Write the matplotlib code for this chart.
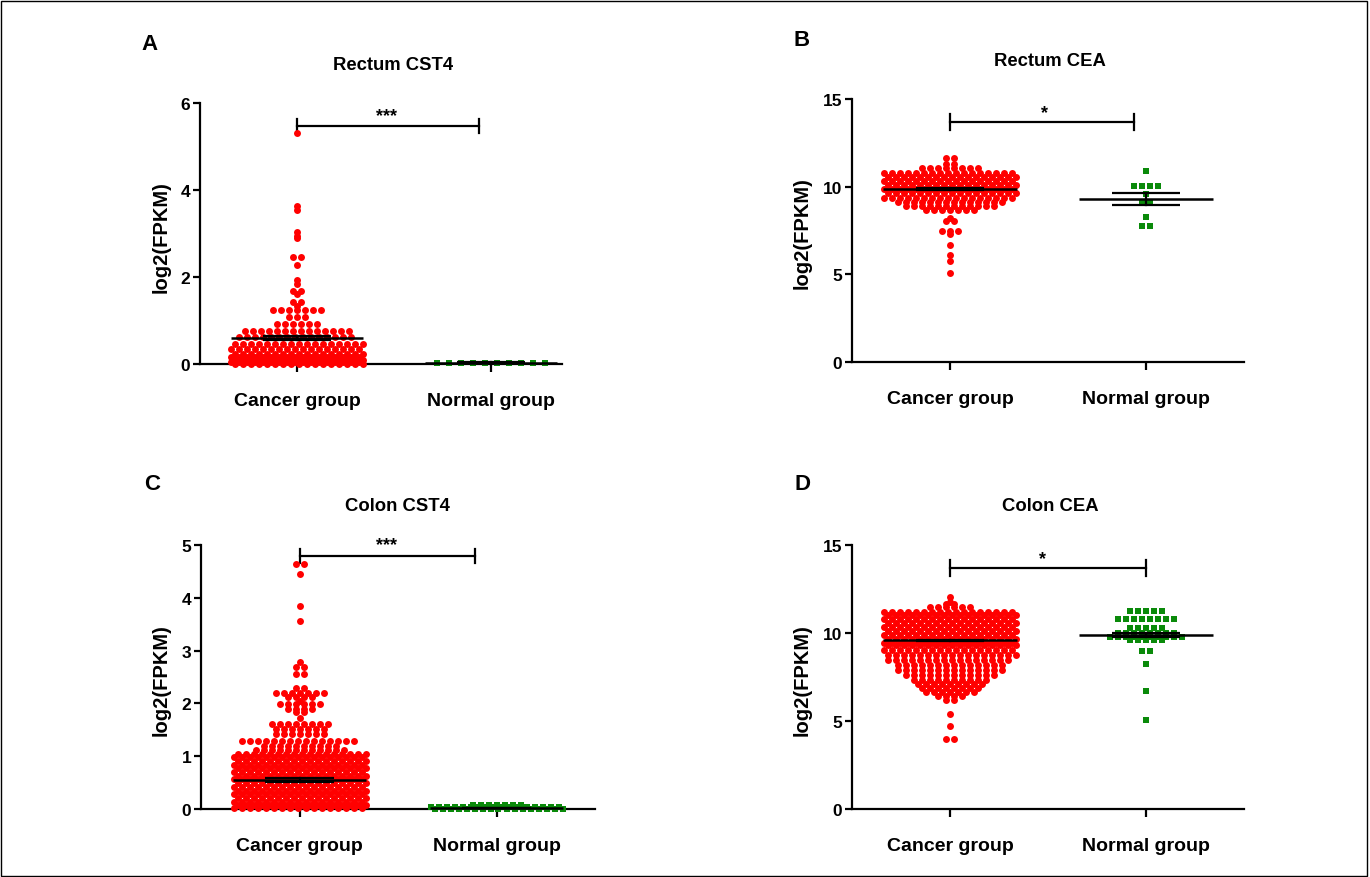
import matplotlib
matplotlib.use('Agg')
import matplotlib.pyplot as plt
import numpy as np
from matplotlib.patches import Rectangle

plt.rcParams['font.family'] = ['Liberation Sans', 'DejaVu Sans']
plt.rcParams['font.weight'] = 'bold'

W, H = 1370, 878
categories = ['Cancer group', 'Normal group']
titles = ['Rectum CST4', 'Rectum CEA', 'Colon CST4', 'Colon CEA']
letters = ['A', 'B', 'C', 'D']
significance = ['***', '*', '***', '*']

# ---- Panel A: Rectum CST4 (swarm rows: value, number of points) ----
a_cancer_vals = [3.63, 3.55, 3.04, 2.95, 2.89, 2.47, 2.28, 1.93, 1.85, 1.67, 1.61, 1.42, 1.33,
                 1.24, 1.07, 0.92, 0.75, 0.62, 0.46, 0.34, 0.24, 0.16, 0.1, 0.05, 0.01]
a_cancer_counts = [1, 1, 1, 1, 1, 2, 1, 1, 1, 2, 1, 2, 1,
                   7, 3, 6, 14, 15, 17, 17, 17, 17, 17, 17, 17]
a_cancer_outlier = [5.32]
a_normal_vals = [0.02]
a_normal_counts = [10]
a_means = [0.60, 0.03]
a_sems = [0.055, 0.01]

# ---- Panel B: Rectum CEA ----
b_cancer_vals = [11.62, 11.28, 11.05, 10.8, 10.55, 10.3, 10.08, 9.85, 9.62, 9.38, 9.15, 8.92,
                 8.65, 8.22, 8.06, 7.45, 7.3, 6.67, 6.1, 5.75, 5.05]
b_cancer_counts = [2, 2, 8, 17, 17, 17, 17, 17, 17, 17, 14, 12, 7, 1, 2, 3, 1, 1, 1, 1, 1]
b_normal_vals = [10.88, 10.05, 9.58, 9.15, 8.29, 7.73]
b_normal_counts = [1, 4, 1, 2, 1, 2]
b_means = [9.85, 9.32]
b_sems = [0.06, 0.34]

# ---- Panel C: Colon CST4 ----
c_cancer_vals = [4.64, 4.46, 3.85, 3.57, 2.79, 2.68, 2.56, 2.3, 2.2, 2.12, 2.04, 1.99, 1.89,
                 1.83, 1.73, 1.61, 1.52, 1.42, 1.29, 1.2, 1.12, 1.05, 0.98, 0.91, 0.84, 0.77,
                 0.7, 0.63, 0.56, 0.49, 0.42, 0.35, 0.28, 0.21, 0.14, 0.07, 0.01]
c_cancer_counts = [2, 1, 1, 1, 1, 2, 2, 2, 7, 4, 1, 6, 4,
                   2, 1, 8, 7, 7, 15, 10, 12, 17, 17, 17, 17, 17,
                   17, 17, 17, 17, 17, 17, 17, 17, 17, 17, 17]
c_normal_vals = [0.07, 0.03, 0.0]
c_normal_counts = [7, 17, 17]
c_means = [0.55, 0.02]
c_sems = [0.03, 0.004]

# ---- Panel D: Colon CEA ----
d_cancer_vals = [12.06, 11.75, 11.62, 11.46, 11.22, 11.0, 10.78, 10.56, 10.34, 10.12, 9.9,
                 9.68, 9.46, 9.3, 9.02, 8.75, 8.45, 8.18, 7.9, 7.62, 7.34, 7.08, 6.9, 6.66,
                 6.4, 6.2, 5.4, 4.73, 4.0]
d_cancer_counts = [1, 1, 2, 6, 17, 17, 17, 17, 17, 17, 17,
                   17, 17, 17, 17, 17, 16, 14, 14, 12, 10, 9, 8, 7,
                   4, 2, 1, 1, 2]
d_normal_vals = [11.25, 10.8, 10.3, 10.0, 9.78, 9.6, 9.0, 8.24, 6.72, 5.07]
d_normal_counts = [5, 8, 5, 8, 10, 5, 2, 1, 1, 1]
d_means = [9.58, 9.9]
d_sems = [0.05, 0.1]

yticks_list = [[0, 2, 4, 6], [0, 5, 10, 15], [0, 1, 2, 3, 4, 5], [0, 5, 10, 15]]

RED = '#ff0000'
GREEN = '#0a8a0a'

fig = plt.figure(figsize=(W / 100, H / 100), dpi=100)
fig.patches.append(Rectangle((0.001, 0.001), 0.997, 0.997, transform=fig.transFigure,
                             fill=False, edgecolor='black', linewidth=1.0))

# panel geometry in pixels: left, right, top (y max), bottom (y = 0)
geom = [(200, 562, 104, 365), (852, 1244, 100, 363), (201, 595, 546, 810), (852, 1244, 546, 810)]
xlims = [(0.5, 2.366), (0.5, 2.5), (0.5, 2.5), (0.5, 2.5)]
ylims = [(0, 6), (0, 15), (0, 5), (0, 15)]


def swarm(ax, ppu, x0, vals, counts, marker, color, size, gap_px=8.0, max_half_px=65.0):
    xs, ys = [], []
    k = 0
    for v, n in zip(vals, counts):
        if n == 1:
            offs = np.array([0.0])
        else:
            step = min(gap_px, 2 * max_half_px / (n - 1))
            offs = (np.arange(n) - (n - 1) / 2) * step
            if n >= 15:
                offs = offs + (0.25 if k % 2 else -0.25) * step
                k += 1
        xs.extend(x0 + offs / ppu)
        ys.extend([v] * n)
    ax.scatter(xs, ys, s=size ** 2, marker=marker, c=color, linewidths=0,
               clip_on=False, zorder=3)


def mean_sem(ax, x0, m, s):
    ax.plot([x0 - 0.34, x0 + 0.34], [m, m], color='black', lw=1.8, zorder=5, clip_on=False,
            solid_capstyle='butt')
    for yy in (m - s, m + s):
        ax.plot([x0 - 0.175, x0 + 0.175], [yy, yy], color='black', lw=1.6, zorder=5,
                clip_on=False, solid_capstyle='butt')
    ax.plot([x0, x0], [m - s, m + s], color='black', lw=1.6, zorder=5, clip_on=False)


panels = [
    (a_cancer_vals, a_cancer_counts, a_normal_vals, a_normal_counts, a_means, a_sems),
    (b_cancer_vals, b_cancer_counts, b_normal_vals, b_normal_counts, b_means, b_sems),
    (c_cancer_vals, c_cancer_counts, c_normal_vals, c_normal_counts, c_means, c_sems),
    (d_cancer_vals, d_cancer_counts, d_normal_vals, d_normal_counts, d_means, d_sems),
]

bracket = [(5.47, 1.94, 0.17, 1.46, 5.52), (13.69, 1.94, 0.43, 1.48, 13.74),
           (4.79, 1.89, 0.14, 1.44, 4.85), (13.69, 2.0, 0.45, 1.47, 13.76)]
title_pos = [(393, 66), (1050, 62), (397, 507), (1050, 507)]
letter_pos = [(149, 45), (802, 40), (152, 485), (803, 485)]
ylabel_pos = [(161, 237), (802, 233), (161, 680), (802, 680)]

for i in range(4):
    l, r, t, b = geom[i]
    ax = fig.add_axes([l / W, 1 - b / H, (r - l) / W, (b - t) / H])
    ax.set_xlim(*xlims[i])
    ax.set_ylim(*ylims[i])
    ppu = (r - l) / (xlims[i][1] - xlims[i][0])
    for side in ('top', 'right'):
        ax.spines[side].set_visible(False)
    for side in ('left', 'bottom'):
        ax.spines[side].set_linewidth(1.6)
    ax.set_yticks(yticks_list[i])
    ax.set_xticks([1, 2])
    ax.set_xticklabels(categories, fontsize=14, fontweight='bold')
    ax.tick_params(axis='y', direction='out', length=5, width=1.6, labelsize=12.5, pad=2)
    ax.tick_params(axis='x', direction='out', length=5.5, width=1.6, pad=15)
    for lab in ax.get_yticklabels():
        lab.set_fontweight('bold')
    cv, cc, nv, nc, ms, ss = panels[i]
    swarm(ax, ppu, 1, cv, cc, 'o', RED, 5.0)
    if i == 0:
        swarm(ax, ppu, 1, a_cancer_outlier, [1], 'o', RED, 5.0)
        swarm(ax, ppu, 2, nv, nc, 's', GREEN, 5.0, gap_px=12.0)
    else:
        swarm(ax, ppu, 2, nv, nc, 's', GREEN, 5.0)
    mean_sem(ax, 1, ms[0], ss[0])
    mean_sem(ax, 2, ms[1], ss[1])
    yb, xr, tk, xs, ys = bracket[i]
    ax.plot([1, xr], [yb, yb], color='black', lw=1.6, clip_on=False)
    ax.plot([1, 1], [yb - tk, yb + tk], color='black', lw=1.6, clip_on=False)
    ax.plot([xr, xr], [yb - tk, yb + tk], color='black', lw=1.6, clip_on=False)
    ax.text(xs, ys, significance[i], ha='center', va='bottom', fontsize=13, fontweight='bold')
    fig.text(title_pos[i][0] / W, 1 - title_pos[i][1] / H, titles[i], ha='center', va='center',
             fontsize=13.3, fontweight='bold')
    fig.text(letter_pos[i][0] / W, 1 - letter_pos[i][1] / H, letters[i], ha='center', va='center',
             fontsize=16, fontweight='bold')
    fig.text(ylabel_pos[i][0] / W, 1 - ylabel_pos[i][1] / H, 'log2(FPKM)', ha='center',
             va='center', rotation=90, fontsize=14.5, fontweight='bold')

fig.savefig('out.png', dpi=100)
